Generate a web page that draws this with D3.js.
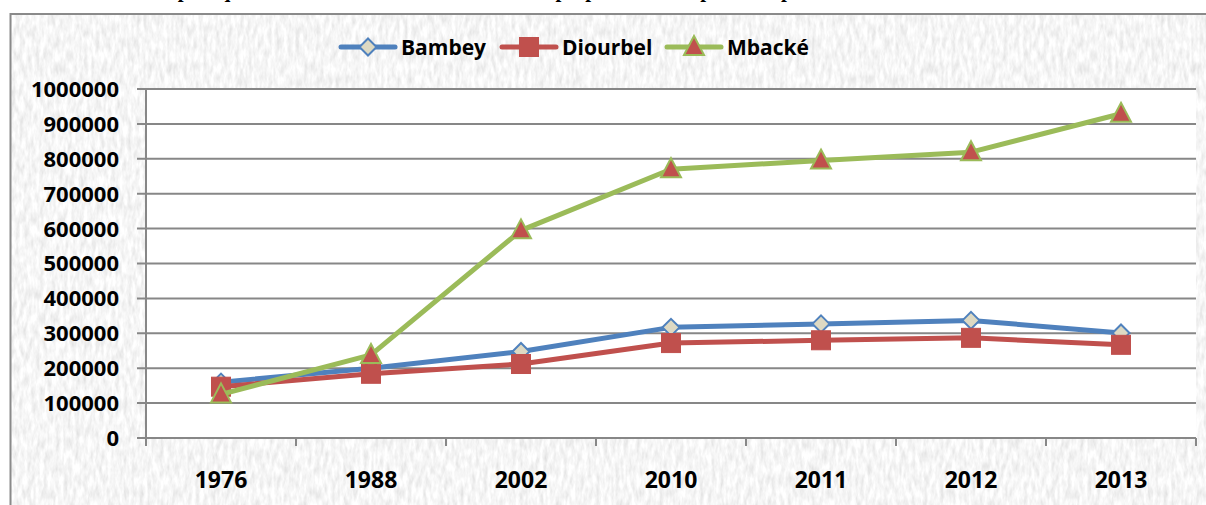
<!DOCTYPE html>
<html><head><meta charset="utf-8">
<script src="https://cdn.jsdelivr.net/npm/d3@7"></script>
<style>html,body{margin:0;padding:0;background:#e9e9e9;overflow:hidden}</style>
</head><body>
<svg id="chart" width="1206" height="505" style="display:block"></svg>
<script>
const categories = ["1976","1988","2002","2010","2011","2012","2013"];
const bambey   = [160000, 200000, 248000, 317000, 327000, 337000, 301000];
const diourbel = [147000, 184000, 212000, 272000, 280000, 287000, 267000];
const mbacke   = [125000, 238000, 595000, 770000, 795000, 819000, 929000];
const yTicks = [0,100000,200000,300000,400000,500000,600000,700000,800000,900000,1000000];
const seriesNames = ["Bambey","Diourbel","Mbacké"];
const titleText = "Graphique n° 4 : Evolution de la population par département de 1976 à 2013";

const series = [
  {name: seriesNames[0], values: bambey,   color:"#4F81BD", marker:"diamond",  fill:"#DDD9C3", stroke:"#4F81BD"},
  {name: seriesNames[1], values: diourbel, color:"#C0504D", marker:"square",   fill:"#C0504D", stroke:"#C0504D"},
  {name: seriesNames[2], values: mbacke,   color:"#9BBB59", marker:"triangle", fill:"#C0504D", stroke:"#9BBB59"}
];

const svg = d3.select("#chart");
const W = 1206, H = 505;
const defs = svg.append("defs");
const f = defs.append("filter").attr("id","tex").attr("filterUnits","userSpaceOnUse")
  .attr("x",0).attr("y",0).attr("width",W).attr("height",H);
f.append("feTurbulence").attr("type","fractalNoise").attr("baseFrequency","0.25 0.08").attr("numOctaves",3).attr("seed",4).attr("result","n");
f.append("feColorMatrix").attr("in","n").attr("type","matrix")
  .attr("values","0.40 0 0 0 0.72  0.40 0 0 0 0.72  0.40 0 0 0 0.72  0 0 0 0 1");

svg.append("rect").attr("x",0).attr("y",0).attr("width",W).attr("height",H).attr("fill","#fff");
svg.append("rect").attr("x",0).attr("y",0).attr("width",W).attr("height",H).attr("filter","url(#tex)");
svg.append("rect").attr("x",0).attr("y",0).attr("width",W).attr("height",13).attr("fill","#fff");
svg.append("rect").attr("x",0).attr("y",0).attr("width",10).attr("height",H).attr("fill","#fff");
svg.append("rect").attr("x",10.5).attr("y",14).attr("width",1300).attr("height",600)
  .attr("fill","none").attr("stroke","#8a8a8a").attr("stroke-width",2);

// title (mostly above the visible area, as in the reference)
svg.append("text").attr("x",130).attr("y",-3).attr("textLength",970).attr("lengthAdjust","spacing")
  .attr("font-family","'Liberation Serif','Times New Roman',serif").attr("font-weight","bold")
  .attr("font-size",21).attr("fill","#000").text(titleText);

const pLeft = 146, pRight = 1196, pTop = 89, pBottom = 438;
const x = d3.scaleBand().domain(categories).range([pLeft,pRight]).padding(0);
const y = d3.scaleLinear().domain([0,1000000]).range([pBottom,pTop]);
const cx = c => x(c) + x.bandwidth()/2;

svg.append("rect").attr("x",pLeft).attr("y",pTop).attr("width",pRight-pLeft).attr("height",pBottom-pTop).attr("fill","#fff");

svg.append("g").selectAll("line").data(yTicks).join("line")
  .attr("x1",pLeft-9).attr("x2",pRight).attr("y1",d=>y(d)).attr("y2",d=>y(d))
  .attr("stroke","#878787").attr("stroke-width",2);

svg.append("line").attr("x1",pLeft).attr("x2",pLeft).attr("y1",pTop).attr("y2",pBottom+1)
  .attr("stroke","#878787").attr("stroke-width",2);
const bounds = categories.map(c=>x(c)).concat([pRight]);
svg.append("g").selectAll("line").data(bounds).join("line")
  .attr("x1",d=>d).attr("x2",d=>d).attr("y1",pBottom).attr("y2",pBottom+8)
  .attr("stroke","#878787").attr("stroke-width",2);

svg.append("g").selectAll("text").data(yTicks).join("text")
  .attr("x",119).attr("y",d=>y(d)).attr("dy","0.36em").attr("text-anchor","end")
  .attr("font-family","'Open Sans',sans-serif").attr("font-weight","bold").attr("font-size",22)
  .attr("fill","#000").text(d=>d);
svg.append("g").selectAll("text").data(categories).join("text")
  .attr("x",d=>cx(d)).attr("y",488).attr("text-anchor","middle")
  .attr("font-family","'Open Sans',sans-serif").attr("font-weight","bold").attr("font-size",23)
  .attr("fill","#000").text(d=>d);

function drawMarker(g, type, px, py, s){
  if(type==="diamond"){
    g.append("path").attr("d",`M${px},${py-8.5}L${px+8.5},${py}L${px},${py+8.5}L${px-8.5},${py}Z`)
      .attr("fill",s.fill).attr("stroke",s.stroke).attr("stroke-width",2);
  } else if(type==="square"){
    g.append("rect").attr("x",px-9.5).attr("y",py-9.5).attr("width",19).attr("height",19)
      .attr("fill",s.fill).attr("stroke",s.stroke).attr("stroke-width",1);
  } else {
    g.append("path").attr("d",`M${px},${py-11}L${px+10},${py+8}L${px-10},${py+8}Z`)
      .attr("fill",s.fill).attr("stroke",s.stroke).attr("stroke-width",2);
  }
}

const line = d3.line().x((d,i)=>cx(categories[i])).y(d=>y(d));
series.forEach(s=>{
  const g = svg.append("g");
  g.append("path").attr("d",line(s.values)).attr("fill","none").attr("stroke",s.color)
    .attr("stroke-width",5).attr("stroke-linejoin","round").attr("stroke-linecap","round");
  s.values.forEach((v,i)=>drawMarker(g, s.marker, cx(categories[i]), y(v), s));
});

const legendX = [341, 502, 667];
series.forEach((s,i)=>{
  const g = svg.append("g");
  const lx = legendX[i], ly = 47;
  g.append("line").attr("x1",lx).attr("x2",lx+54).attr("y1",ly).attr("y2",ly)
    .attr("stroke",s.color).attr("stroke-width",5).attr("stroke-linecap","round");
  drawMarker(g, s.marker, lx+27, ly, s);
  g.append("text").attr("x",lx+60).attr("y",ly).attr("dy","0.36em")
    .attr("font-family","'Open Sans',sans-serif").attr("font-weight","bold").attr("font-size",21)
    .attr("fill","#000").text(s.name);
});
</script>
</body></html>
